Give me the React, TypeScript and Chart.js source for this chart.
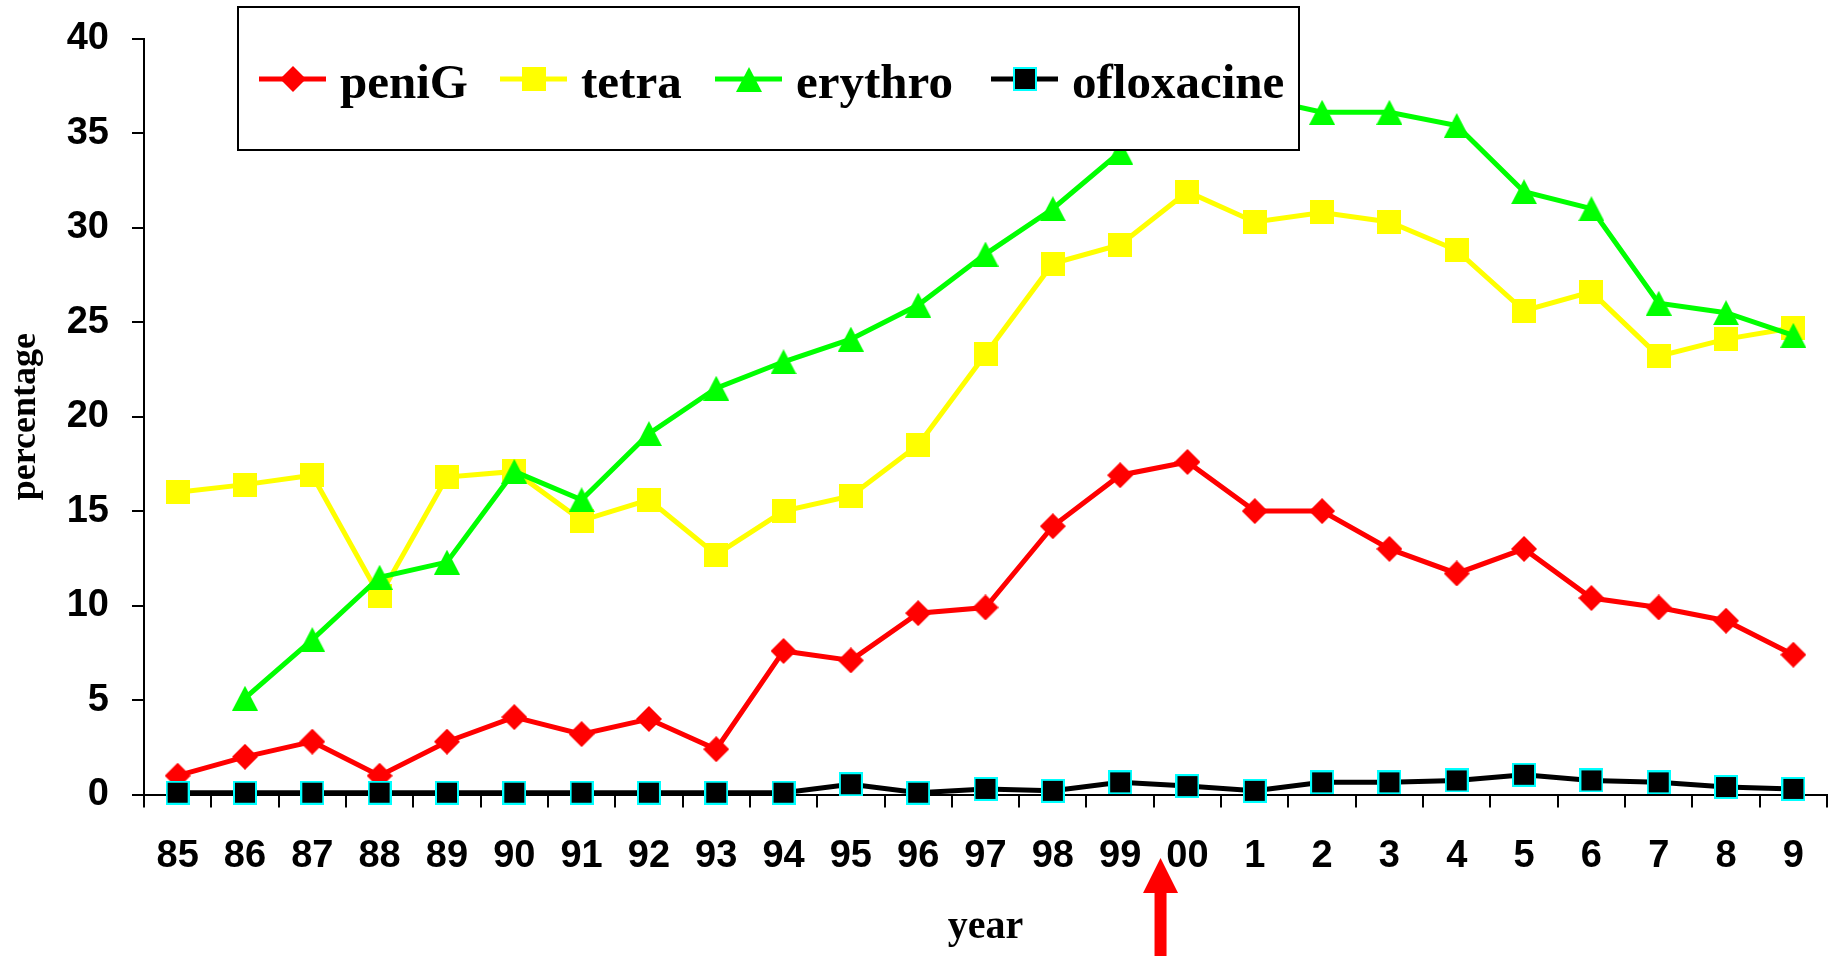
import React, { useEffect, useRef } from 'react';
import { Chart, registerables } from 'chart.js';

Chart.register(...registerables);

// ---------- data ----------
const YEARS = ['85', '86', '87', '88', '89', '90', '91', '92', '93', '94', '95', '96', '97', '98', '99', '00', '1', '2', '3', '4', '5', '6', '7', '8', '9'];
const PENIG = [1.0, 2.0, 2.8, 1.0, 2.8, 4.1, 3.2, 4.0, 2.4, 7.6, 7.1, 9.6, 9.9, 14.2, 16.9, 17.6, 15.0, 15.0, 13.0, 11.7, 13.0, 10.4, 9.9, 9.2, 7.4];
const TETRA = [16.0, 16.4, 16.9, 10.5, 16.8, 17.1, 14.5, 15.6, 12.7, 15.0, 15.8, 18.5, 23.3, 28.1, 29.1, 31.9, 30.3, 30.8, 30.3, 28.8, 25.6, 26.6, 23.2, 24.1, 24.7];
const ERYTHRO = [null, 5.1, 8.2, 11.5, 12.3, 17.1, 15.6, 19.1, 21.5, 22.9, 24.1, 25.9, 28.6, 31.0, 34.0, 36.6, 36.9, 36.1, 36.1, 35.4, 31.9, 31.0, 26.0, 25.5, 24.3];
const OFLOXACINE = [0.1, 0.1, 0.1, 0.1, 0.1, 0.1, 0.1, 0.1, 0.1, 0.1, 0.55, 0.1, 0.3, 0.2, 0.65, 0.45, 0.2, 0.65, 0.65, 0.75, 1.05, 0.75, 0.65, 0.4, 0.3];
const SERIES_NAMES = ['peniG', 'tetra', 'erythro', 'ofloxacine'];
const Y_MIN = 0;
const Y_MAX = 40;
const Y_STEP = 5;
const X_TITLE = 'year';
const Y_TITLE = 'percentage';
const ARROW_AT = 14.6; // category position of the red arrow (between 99 and 00)

const RED = '#FF0000';
const YELLOW = '#FFFF00';
const GREEN = '#00FF00';
const BLACK = '#000000';
const CYAN = '#00FFFF';

const SANS = '"Liberation Sans", Arial, sans-serif';
const SERIF = '"Liberation Serif", "Times New Roman", serif';

function makeMarker(kind: string): HTMLCanvasElement {
  const c = document.createElement('canvas');
  if (kind === 'diamond') {
    c.width = 26; c.height = 26;
    const ctx = c.getContext('2d')!;
    ctx.fillStyle = RED;
    ctx.beginPath();
    ctx.moveTo(13, 0); ctx.lineTo(26, 13); ctx.lineTo(13, 26); ctx.lineTo(0, 13);
    ctx.closePath(); ctx.fill();
  } else if (kind === 'square') {
    c.width = 24; c.height = 24;
    const ctx = c.getContext('2d')!;
    ctx.fillStyle = YELLOW;
    ctx.fillRect(0, 0, 24, 24);
  } else if (kind === 'triangle') {
    c.width = 26; c.height = 25;
    const ctx = c.getContext('2d')!;
    ctx.fillStyle = GREEN;
    ctx.beginPath();
    ctx.moveTo(13, 0); ctx.lineTo(26, 25); ctx.lineTo(0, 25);
    ctx.closePath(); ctx.fill();
  } else {
    c.width = 24; c.height = 24;
    const ctx = c.getContext('2d')!;
    ctx.fillStyle = CYAN;
    ctx.fillRect(0, 0, 24, 24);
    ctx.fillStyle = BLACK;
    ctx.fillRect(2, 2, 20, 20);
  }
  return c;
}

export default function App() {
  const ref = useRef<HTMLCanvasElement | null>(null);

  useEffect(() => {
    if (!ref.current) return;
    const markers = [makeMarker('diamond'), makeMarker('square'), makeMarker('triangle'), makeMarker('blacksq')];
    const colors = [RED, YELLOW, GREEN, BLACK];
    const values = [PENIG, TETRA, ERYTHRO, OFLOXACINE];
    const orders = [3, 2, 1, 0];

    const overlay = {
      id: 'overlay',
      afterDatasetsDraw(chart: any) {
        const ctx = chart.ctx as CanvasRenderingContext2D;
        ctx.save();
        // legend box
        const bx = 238, by = 7, bw = 1061, bh = 143;
        ctx.fillStyle = '#FFFFFF';
        ctx.fillRect(bx, by, bw, bh);
        ctx.strokeStyle = BLACK;
        ctx.lineWidth = 2;
        ctx.strokeRect(bx, by, bw, bh);
        const starts = [259, 500, 715, 991];
        const lineLen = 67;
        const ly = 79;
        ctx.font = `bold 49px ${SERIF}`;
        ctx.textBaseline = 'alphabetic';
        ctx.textAlign = 'left';
        SERIES_NAMES.forEach((name, i) => {
          const x = starts[i];
          ctx.strokeStyle = colors[i];
          ctx.lineWidth = 5;
          ctx.beginPath();
          ctx.moveTo(x, ly);
          ctx.lineTo(x + lineLen, ly);
          ctx.stroke();
          const m = markers[i];
          ctx.drawImage(m, Math.round(x + lineLen / 2 - m.width / 2), Math.round(ly - m.height / 2));
          ctx.fillStyle = BLACK;
          ctx.fillText(name, x + lineLen + 14, 98);
        });
        // red arrow
        const xs = chart.scales.x;
        const i0 = Math.floor(ARROW_AT);
        const p0 = xs.getPixelForValue(i0);
        const p1 = xs.getPixelForValue(i0 + 1);
        const ax = p0 + (ARROW_AT - i0) * (p1 - p0);
        ctx.fillStyle = RED;
        ctx.beginPath();
        ctx.moveTo(ax, 858);
        ctx.lineTo(ax + 17.5, 893);
        ctx.lineTo(ax + 6, 893);
        ctx.lineTo(ax + 6, 956);
        ctx.lineTo(ax - 6, 956);
        ctx.lineTo(ax - 6, 893);
        ctx.lineTo(ax - 17.5, 893);
        ctx.closePath();
        ctx.fill();
        ctx.restore();
      },
    };

    const chart = new Chart(ref.current, {
      type: 'line',
      data: {
        labels: YEARS,
        datasets: SERIES_NAMES.map((name, i) => ({
          label: name,
          data: values[i] as any,
          borderColor: colors[i],
          backgroundColor: colors[i],
          borderWidth: 5,
          tension: 0,
          pointStyle: markers[i] as any,
          pointRadius: 12,
          pointHoverRadius: 12,
          order: orders[i],
          clip: false as any,
          spanGaps: false,
        })),
      },
      options: {
        animation: false,
        responsive: false,
        maintainAspectRatio: false,
        events: [],
        layout: { autoPadding: false, padding: { top: 38.6, right: 8, bottom: 0, left: 0 } } as any,
        plugins: {
          legend: { display: false },
          tooltip: { enabled: false },
          title: { display: false },
        },
        scales: {
          x: {
            type: 'category',
            offset: true,
            grid: { display: true, drawOnChartArea: false, drawTicks: true, tickLength: 13, offset: true, color: BLACK, lineWidth: 2 },
            border: { display: true, color: BLACK, width: 2 },
            ticks: { color: BLACK, font: { family: SANS, size: 38, weight: 'bold' }, padding: 26, maxRotation: 0, autoSkip: false },
            title: { display: true, text: X_TITLE, color: BLACK, font: { family: SERIF, size: 40, weight: 'bold' }, padding: { top: 0, bottom: 7 } },
            afterFit: (s: any) => { s.height = 164.4; s.paddingLeft = 0; s.paddingRight = 0; },
          },
          y: {
            min: Y_MIN,
            max: Y_MAX,
            grid: { display: true, drawOnChartArea: false, drawTicks: true, tickLength: 12, color: BLACK, lineWidth: 2 },
            border: { display: true, color: BLACK, width: 2 },
            ticks: { stepSize: Y_STEP, color: BLACK, font: { family: SANS, size: 38, weight: 'bold' }, padding: 23 },
            title: { display: true, text: Y_TITLE, color: BLACK, font: { family: SERIF, size: 36, weight: 'bold' }, padding: { top: 4, bottom: 0 } },
            afterFit: (s: any) => { s.width = 144; s.paddingTop = 0; s.paddingBottom = 0; },
          },
        },
      } as any,
      plugins: [overlay],
    });
    return () => chart.destroy();
  }, []);

  return (
    <div style={{ position: 'absolute', left: 0, top: 0, width: 1835, height: 959, background: '#fff' }}>
      <canvas ref={ref} width={1835} height={959} style={{ display: 'block', width: 1835, height: 959 }} />
    </div>
  );
}
